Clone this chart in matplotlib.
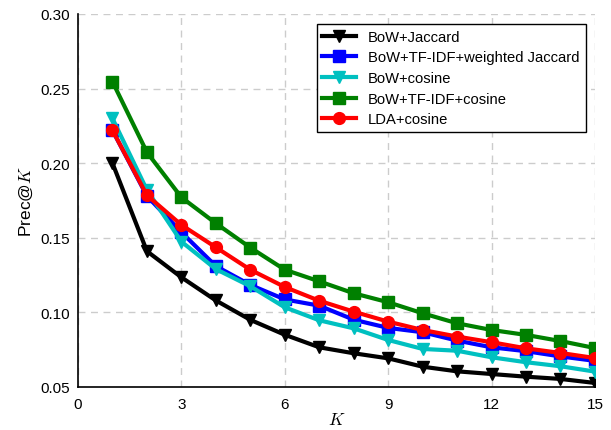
import matplotlib
matplotlib.use("Agg")
import matplotlib.pyplot as plt

K = list(range(1, 16))

bow_jaccard = [0.200, 0.141, 0.1235, 0.108, 0.095, 0.085, 0.0766, 0.0726, 0.0692, 0.0636,
               0.0605, 0.0587, 0.0569, 0.0554, 0.0527]
bow_tfidf_wjaccard = [0.222, 0.178, 0.1537, 0.131, 0.1184, 0.1087, 0.1045, 0.0951, 0.0896, 0.0867,
                      0.0811, 0.0766, 0.0740, 0.0705, 0.0675]
bow_cosine = [0.230, 0.182, 0.1474, 0.129, 0.1175, 0.1034, 0.0947, 0.0893, 0.0815, 0.0755,
              0.0743, 0.0699, 0.0666, 0.0639, 0.0603]
bow_tfidf_cosine = [0.2546, 0.2073, 0.1771, 0.1597, 0.1434, 0.1286, 0.1208, 0.1128, 0.1068, 0.0994,
                    0.0927, 0.0882, 0.0849, 0.0808, 0.0761]
lda_cosine = [0.222, 0.1785, 0.1586, 0.1436, 0.1286, 0.117, 0.1078, 0.1005, 0.0938, 0.0882,
              0.0838, 0.0800, 0.0759, 0.0728, 0.0694]

plt.rcParams['font.family'] = ['Liberation Sans', 'DejaVu Sans']
plt.rcParams['mathtext.fontset'] = 'cm'

fig = plt.figure(figsize=(6.11, 4.31), dpi=100)
ax = fig.add_axes([0.1277, 0.0998, 0.846, 0.8654])

lw = 3
ms = 8.5
ax.plot(K, bow_jaccard, color='black', marker='v', lw=lw, ms=ms, label='BoW+Jaccard')
ax.plot(K, bow_tfidf_wjaccard, color='blue', marker='s', lw=lw, ms=ms, label='BoW+TF-IDF+weighted Jaccard')
ax.plot(K, bow_cosine, color='#00c0c0', marker='v', lw=lw, ms=ms, label='BoW+cosine')
ax.plot(K, bow_tfidf_cosine, color='green', marker='s', lw=lw, ms=ms, label='BoW+TF-IDF+cosine')
ax.plot(K, lda_cosine, color='red', marker='o', lw=lw, ms=ms, label='LDA+cosine')

ax.set_xlim(0, 15)
ax.set_ylim(0.05, 0.30)
ax.set_xticks([0, 3, 6, 9, 12, 15])
ax.set_yticks([0.05, 0.10, 0.15, 0.20, 0.25, 0.30])
ax.set_yticklabels(['0.05', '0.10', '0.15', '0.20', '0.25', '0.30'])
ax.tick_params(length=0, labelsize=11, pad=6)
ax.tick_params(axis='x', pad=7)
ax.grid(True, ls=(0, (5, 4)), color='#cccccc', lw=1)
ax.set_axisbelow(True)
for s in ['top', 'right']:
    ax.spines[s].set_visible(False)
for s in ['left', 'bottom']:
    ax.spines[s].set_linewidth(1.2)

ax.set_xlabel('$K$', fontsize=12.5, labelpad=0)
ax.set_ylabel('Prec@$K$', fontsize=12.5)

leg = ax.legend(loc='upper right', fontsize=10.6, fancybox=False, framealpha=1,
                edgecolor='black', borderpad=0.4, handlelength=2.3, labelspacing=0.45,
                bbox_to_anchor=(0.996, 0.993))
leg.get_frame().set_linewidth(1)

fig.savefig('out.png', dpi=100)
